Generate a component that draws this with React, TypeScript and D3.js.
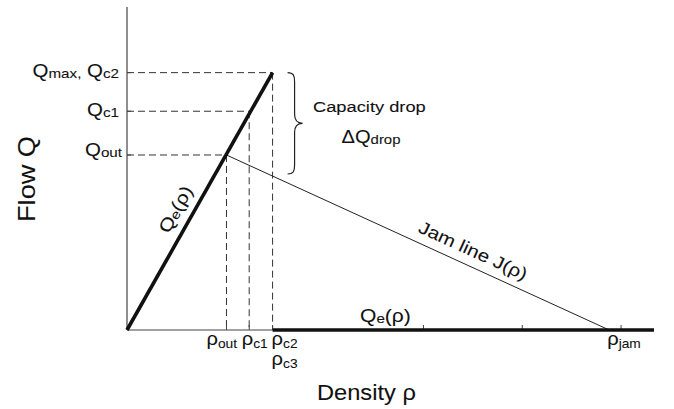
import React from "react";
import * as d3 from "d3";

// ---- data (abstract units) ----
const xMax = 160;
const yMax = 2510;
const densityKeys = ["out", "c1", "c2"];
const densityValues = [30.2, 37.1, 44.2];
const flowKeys = ["out", "c1", "max"];
const flowValues = [1360, 1700, 2000];
const rhoJam = 146.4;
const xTicks = [90, 120, 150];
const qeFree: [number, number][] = [[0, 0], [44.2, 2000]];
const qeJam: [number, number][] = [[44.2, 0], [160, 0]];
const jamLine: [number, number][] = [[30.2, 1360], [146.4, 0]];

const W = 674;
const H = 409;
const FONT = "'Liberation Sans', Arial, Helvetica, sans-serif";
const SX = 1.17;

function T(props: any) {
  const { x, y, rot = 0, sx = SX, size = 17.5, anchor = "start", children } = props;
  return (
    <text
      transform={`translate(${x},${y}) rotate(${rot}) scale(${sx},1)`}
      fontSize={size}
      textAnchor={anchor}
      fontFamily={FONT}
      fill="#111"
      stroke="#111"
      strokeWidth={0.08}
    >
      {children}
    </text>
  );
}

export default function App() {
  const x = d3.scaleLinear().domain([0, xMax]).range([127, 654]);
  const y = d3.scaleLinear().domain([0, yMax]).range([330, 7]);
  const line = d3.line<[number, number]>().x((d) => x(d[0])).y((d) => y(d[1]));

  const [rOut, rC1, rC2] = densityValues;
  const [qOut, qC1, qMax] = flowValues;

  const steepAng = (Math.atan2(y(qMax) - y(0), x(rC2) - x(0)) * 180) / Math.PI;
  const jamAng = (Math.atan2(y(0) - y(qOut), x(rhoJam) - x(rOut)) * 180) / Math.PI;

  const along = (p0: [number, number], p1: [number, number], t: number, ang: number, d: number) => {
    const X0 = x(p0[0]), Y0 = y(p0[1]), X1 = x(p1[0]), Y1 = y(p1[1]);
    const a = (ang * Math.PI) / 180;
    return [X0 + (X1 - X0) * t + d * Math.sin(a), Y0 + (Y1 - Y0) * t - d * Math.cos(a)];
  };
  const steepPos = along(qeFree[0], qeFree[1], 0.35, steepAng, 11);
  const jamPos = along(jamLine[0], jamLine[1], 0.488, jamAng, 9.5);

  const bx = x(rC2) + 15;
  const bTop = y(qMax);
  const bBot = y(qOut) + 19;
  const bMid = (bTop + bBot) / 2;
  const brace = `M${bx},${bTop} C${bx + 6},${bTop} ${bx + 7},${bTop + 3} ${bx + 7},${bTop + 9} L${bx + 7},${bMid - 9} C${bx + 7},${bMid - 3} ${bx + 9},${bMid} ${bx + 15},${bMid} C${bx + 9},${bMid} ${bx + 7},${bMid + 3} ${bx + 7},${bMid + 9} L${bx + 7},${bBot - 9} C${bx + 7},${bBot - 3} ${bx + 6},${bBot} ${bx},${bBot}`;

  const dash = "7,4";
  const rhoLabelX = [x(rOut) - 20, x(rC1) - 7.5, x(rC2) - 1];

  return (
    <svg width={W} height={H} style={{ position: "absolute", left: 0, top: 0, background: "#fff" }}>
      {densityValues.map((r, i) => (
        <g key={i}>
          <line x1={x(0)} x2={x(r)} y1={y(flowValues[i])} y2={y(flowValues[i])} stroke="#333" strokeWidth={1} strokeDasharray={dash} />
          <line x1={x(r)} x2={x(r)} y1={y(flowValues[i])} y2={y(0)} stroke="#333" strokeWidth={1} strokeDasharray={dash} />
        </g>
      ))}
      <line x1={x(0)} x2={x(0)} y1={y(0)} y2={y(yMax)} stroke="#444" strokeWidth={1.2} />
      <line x1={x(0)} x2={x(xMax)} y1={y(0)} y2={y(0)} stroke="#444" strokeWidth={1.2} />
      {[...densityValues, ...xTicks].map((t, i) => (
        <line key={i} x1={x(t)} x2={x(t)} y1={y(0)} y2={y(0) - 5} stroke="#444" strokeWidth={1} />
      ))}
      {flowValues.map((q, i) => (
        <line key={i} x1={x(0)} x2={x(0) + 4} y1={y(q)} y2={y(q)} stroke="#444" strokeWidth={1} />
      ))}
      <path d={line(jamLine) || ""} stroke="#222" strokeWidth={1} fill="none" />
      <path d={line(qeFree) || ""} stroke="#111" strokeWidth={3.6} fill="none" />
      <path d={line(qeJam) || ""} stroke="#111" strokeWidth={3.6} fill="none" />
      <path d={brace} stroke="#222" strokeWidth={1.2} fill="none" />

      <T x={119} y={y(qMax) + 4.5} anchor="end">
        Q<tspan fontSize={13} dy={1}>max,</tspan>
        <tspan dy={-1}> Q</tspan>
        <tspan fontSize={13} dy={1}>c2</tspan>
      </T>
      <T x={119} y={y(qC1) + 4.5} anchor="end">
        Q<tspan fontSize={13} dy={1}>c1</tspan>
      </T>
      <T x={122} y={y(qOut) + 1.5} anchor="end">
        Q<tspan fontSize={13} dy={1}>out</tspan>
      </T>

      {densityKeys.map((k, i) => (
        <T key={k} x={rhoLabelX[i]} y={y(0) + 15} size={19} sx={1.06}>
          ρ<tspan fontSize={13} dy={3}>{k}</tspan>
        </T>
      ))}
      <T x={rhoLabelX[2]} y={y(0) + 35} size={19} sx={1.06}>
        ρ<tspan fontSize={13} dy={3}>c3</tspan>
      </T>
      <T x={x(rhoJam) - 2} y={y(0) + 15} size={19} sx={1.06}>
        ρ<tspan fontSize={13} dy={3}>jam</tspan>
      </T>

      <T x={35} y={179} rot={-90} size={23} sx={1.18} anchor="middle">Flow Q</T>
      <T x={317} y={400} size={21.5} sx={1.1}>Density ρ</T>

      <T x={313} y={112} size={15.5} sx={1.18}>Capacity drop</T>
      <T x={341.5} y={143} size={17.5} sx={1.15}>
        ΔQ<tspan fontSize={13} dy={1}>drop</tspan>
      </T>
      <T x={steepPos[0]} y={steepPos[1]} rot={steepAng} size={18}>
        Q<tspan fontSize={13} dy={1}>e</tspan>
        <tspan dy={-1}>(ρ)</tspan>
      </T>
      <T x={jamPos[0]} y={jamPos[1]} rot={jamAng} size={17.5}>Jam line J(ρ)</T>
      <T x={360} y={322} size={18}>
        Q<tspan fontSize={13} dy={1}>e</tspan>
        <tspan dy={-1}>(ρ)</tspan>
      </T>
    </svg>
  );
}
